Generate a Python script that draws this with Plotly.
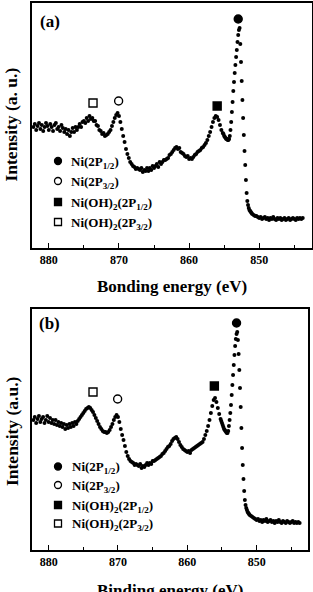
import numpy as np
import plotly.graph_objects as go

W, H = 313, 592

# ---------------- data (energies in eV, intensity in arbitrary units) ----------------
# energy grid: 0.2 eV steps, 0.1 eV steps around the main peak
E_SEG1 = (882.2, 855.2, 0.2)
E_SEG2 = (855.1, 851.0, 0.1)
E_SEG3 = (850.8, 843.8, 0.2)

INT_A = [
    # 882.2 -> 876.0
    121, 124, 118, 122, 125, 119, 123, 117, 121, 125, 122, 118, 124, 121, 117, 123,
    125, 119, 121, 117, 123, 120, 116, 119, 114, 118, 112, 116, 120, 116, 121, 118,
    # 875.8 -> 872.0
    121, 124, 121, 126, 127, 125, 130, 127, 132, 129, 130, 127, 127, 123, 122, 118,
    117, 114, 115, 112,
    # 871.8 -> 868.0
    113, 114, 116, 118, 122, 126, 130, 133, 135, 132, 126, 119, 112, 106, 99, 94,
    90, 86, 84, 82,
    # 867.8 -> 862.0
    81, 79, 80, 79, 78, 80, 76, 78, 77, 80, 77, 80, 78, 82, 80, 82, 84, 81, 86, 84,
    86, 88, 88, 89, 90, 93, 94, 96, 98, 100,
    # 861.8 -> 855.2
    101, 99, 100, 96, 95, 94, 92, 91, 92, 89, 90, 89, 91, 93, 94, 96, 97, 98, 100,
    101, 103, 105, 108, 112, 116, 121, 126, 130, 132, 131, 128, 123, 118, 115,
    # 855.1 -> 851.0 (0.1 eV)
    114, 112, 111, 110, 109, 109, 108, 108, 109, 112,
    118, 126, 136, 146, 157, 166, 175, 183, 191, 198,
    206, 213, 218, 220, 204, 186, 167, 148, 130, 113,
    97, 83, 68, 55, 47, 43, 40, 38, 37, 36, 35, 34,
    # 850.8 -> 843.8
    33, 32, 32, 31, 30, 31, 29, 30, 31, 29, 30, 28, 30, 29, 31, 29, 28, 30, 29, 30,
    28, 29, 30, 28, 29, 30, 28, 29, 30, 29, 28, 30, 29, 30, 29, 30,
]

INT_B = [
    # 882.2 -> 876.0
    130, 133, 127, 131, 134, 128, 131, 133, 127, 130, 134, 128, 132, 127, 130, 126,
    130, 125, 128, 124, 127, 123, 126, 121, 125, 122, 126, 123, 127, 124, 128, 126,
    # 875.8 -> 872.0
    129, 131, 133, 135, 137, 139, 141, 142, 143, 142, 140, 138, 135, 132, 129, 126,
    123, 121, 119, 118,
    # 871.8 -> 868.0
    118, 117, 118, 120, 123, 126, 130, 133, 135, 133, 128, 121, 115, 110, 104, 98,
    94, 91, 89, 88,
    # 867.8 -> 862.0
    87, 85, 86, 85, 84, 86, 82, 84, 83, 85, 87, 85, 87, 86, 89, 89, 90, 91, 92, 93,
    94, 96, 97, 99, 101, 103, 104, 106, 109, 111,
    # 861.8 -> 855.2
    112, 113, 111, 108, 105, 103, 101, 100, 99, 98, 99, 97, 100, 101, 102, 103, 104,
    105, 106, 107, 108, 111, 115, 119, 124, 130, 137, 144, 150, 152, 148, 142, 136, 131,
    # 855.1 -> 851.0 (0.1 eV)
    129, 127, 125, 123, 121, 120, 119, 118, 117, 117,
    119, 124, 130, 137, 145, 155, 165, 175, 185, 195,
    204, 211, 216, 218, 210, 196, 180, 162, 143, 122,
    102, 85, 71, 59, 50, 45, 42, 40, 38, 37, 36, 35,
    # 850.8 -> 843.8
    34, 33, 32, 31, 30, 31, 29, 30, 28, 30, 29, 31, 28, 29, 30, 28, 29, 27, 29, 28,
    30, 28, 27, 29, 28, 27, 29, 28, 27, 28, 29, 27, 28, 27, 28, 27,
]

# peak assignment symbols (energy, intensity)
PEAK_SYMBOLS = ["circle", "circle-open", "square", "square-open"]
PEAK_E_A = [853.0, 870.05, 856.0, 873.7]
PEAK_I_A = [229, 147, 142, 145]
PEAK_E_B = [852.9, 870.05, 856.1, 873.6]
PEAK_I_B = [227, 151, 164, 158]

LEGEND_LABELS = [
    "Ni(2P<sub>1/2</sub>)",
    "Ni(2P<sub>3/2</sub>)",
    "Ni(OH)<sub>2</sub>(2P<sub>1/2</sub>)",
    "Ni(OH)<sub>2</sub>(2P<sub>3/2</sub>)",
]
TICK_VALS = [880, 870, 860, 850]
TICK_TEXT = ["880", "870", "860", "850"]


def grid(seg):
    a, b, s = seg
    n = int(round((a - b) / s)) + 1
    return [round(a - i * s, 2) for i in range(n)]


ENERGY = grid(E_SEG1) + grid(E_SEG2) + grid(E_SEG3)
assert len(ENERGY) == len(INT_A) == len(INT_B), (len(ENERGY), len(INT_A), len(INT_B))

FONT = "Liberation Serif"


def px_x(px):
    return px / W


def px_y(py):
    return 1 - py / H


def bfont(size):
    return dict(family=FONT, size=size, color="black")


fig = go.Figure()

panels = [
    dict(x0=32, x1=311.5, y0=3, y1=248, ymax=245, xa="x", ya="y", ints=INT_A,
         pe=PEAK_E_A, pi=PEAK_I_A, tag="(a)", tagpos=(50, 21),
         xtitle="Bonding energy (eV)", xtpos=(172, 286),
         ytitle="Intensity (a. u.)", ytpos=(10, 124.5),
         leg_y=[161, 181, 202, 222], leg_mx=58, leg_tx=69),
    dict(x0=32, x1=308.3, y0=309, y1=550, ymax=241, xa="x2", ya="y2", ints=INT_B,
         pe=PEAK_E_B, pi=PEAK_I_B, tag="(b)", tagpos=(49.5, 323),
         xtitle="Binding energy (eV)", xtpos=(170, 590),
         ytitle="Intensity (a.u.)", ytpos=(12, 431),
         leg_y=[466.5, 485, 505, 523.5], leg_mx=58, leg_tx=70),
]

annotations = []
shapes = []


def label(text, px, py, size, **kw):
    d = dict(text="<b>%s</b>" % text, x=px_x(px), y=px_y(py), xref="paper",
             yref="paper", showarrow=False, xanchor="center", yanchor="middle",
             font=bfont(size))
    d.update(kw)
    annotations.append(d)


for k, p in enumerate(panels):
    fig.add_trace(go.Scatter(
        x=ENERGY, y=p["ints"], mode="markers", xaxis=p["xa"], yaxis=p["ya"],
        marker=dict(size=4, color="black", line=dict(width=0)),
        showlegend=False, hoverinfo="skip"))
    fig.add_trace(go.Scatter(
        x=p["pe"], y=p["pi"], mode="markers", xaxis=p["xa"], yaxis=p["ya"],
        marker=dict(size=8, color="black", symbol=PEAK_SYMBOLS,
                    line=dict(color="black", width=1.4)),
        showlegend=False, hoverinfo="skip"))

    sfx = "" if k == 0 else "2"
    fig.layout["xaxis" + sfx] = dict(
        domain=[px_x(p["x0"]), px_x(p["x1"])], range=[882.4, 842.55],
        anchor="y" + sfx, showline=True, linecolor="black", linewidth=1.6,
        mirror=True, ticks="inside", ticklen=5, tickwidth=1.3, tickcolor="black",
        tickvals=TICK_VALS, ticktext=["<b>%s</b>" % t for t in TICK_TEXT],
        tickfont=bfont(12),
        minor=dict(tickvals=[875, 865, 855, 845], ticks="inside", ticklen=3,
                   tickwidth=1.2, tickcolor="black"),
        showgrid=False, zeroline=False, fixedrange=True)
    fig.layout["yaxis" + sfx] = dict(
        domain=[px_y(p["y1"]), px_y(p["y0"])], range=[0, p["ymax"]],
        anchor="x" + sfx, showline=True, linecolor="black", linewidth=1.6,
        mirror=True, ticks="", showticklabels=False, showgrid=False,
        zeroline=False, fixedrange=True)

    label(p["tag"], *p["tagpos"], 17)
    label(p["xtitle"], *p["xtpos"], 17)
    label(p["ytitle"], *p["ytpos"], 17.5, textangle=-90)

    for i, (lab, ly) in enumerate(zip(LEGEND_LABELS, p["leg_y"])):
        label(lab, p["leg_tx"], ly + 1, 13, xanchor="left")
        mx = p["leg_mx"]
        r = 3.5
        filled = i in (0, 2)
        shapes.append(dict(type="circle" if i < 2 else "rect",
                           xref="paper", yref="paper",
                           x0=px_x(mx - r), x1=px_x(mx + r),
                           y0=px_y(ly + r), y1=px_y(ly - r),
                           line=dict(color="black", width=1.3),
                           fillcolor="black" if filled else "rgba(0,0,0,0)"))

fig.update_layout(
    width=W, height=H, margin=dict(l=0, r=0, t=0, b=0),
    paper_bgcolor="white", plot_bgcolor="white",
    annotations=annotations, shapes=shapes, showlegend=False)

fig.write_html("out.html", config={"displayModeBar": False})
